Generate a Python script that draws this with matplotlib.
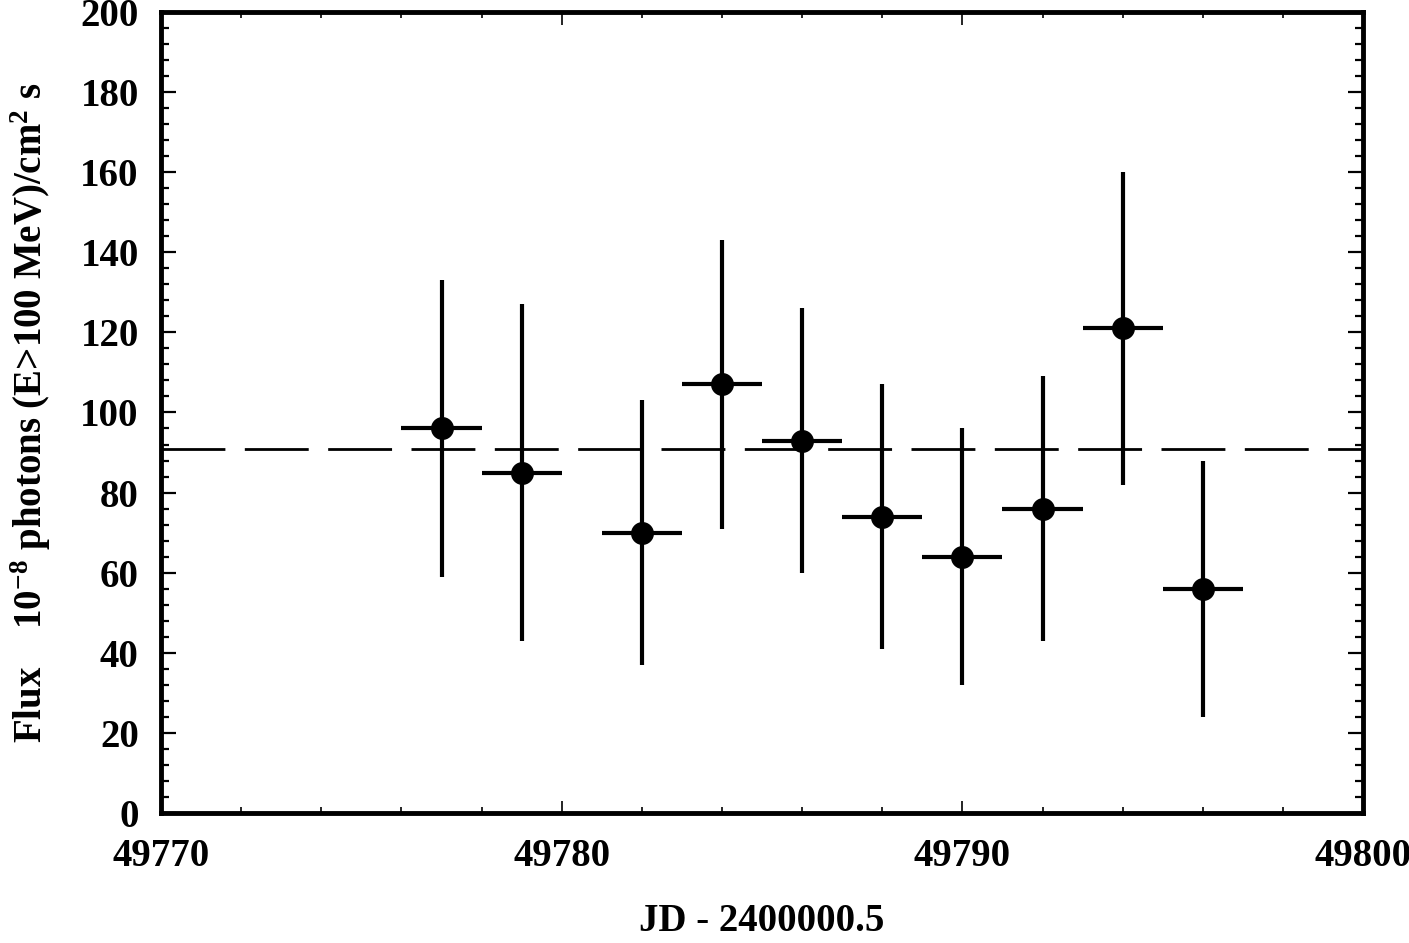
import matplotlib
matplotlib.use("Agg")
import matplotlib.pyplot as plt
from matplotlib.ticker import MultipleLocator

# light curve values
jd = [49777, 49779, 49782, 49784, 49786, 49788, 49790, 49792, 49794, 49796]
flux = [96, 85, 70, 107, 93, 74, 64, 76, 121, 56]
flux_hi = [133, 127, 103, 143, 126, 107, 96, 109, 160, 88]
flux_lo = [59, 43, 37, 71, 60, 41, 32, 43, 82, 24]
bin_half = [1, 1, 1, 1, 1, 1, 1, 1, 1, 1]
mean_flux = 91

plt.rcParams['font.family'] = ['Liberation Serif', 'DejaVu Serif']
plt.rcParams['font.weight'] = 'bold'
plt.rcParams['mathtext.fontset'] = 'custom'
plt.rcParams['mathtext.rm'] = 'Liberation Serif:bold'
plt.rcParams['mathtext.default'] = 'rm'

fig = plt.figure(figsize=(14.09, 9.43), dpi=100)
ax = fig.add_axes([0.1143, 0.1379, 0.8531, 0.8494])

yerr = [[f - lo for f, lo in zip(flux, flux_lo)],
        [hi - f for f, hi in zip(flux, flux_hi)]]
ax.errorbar(jd, flux, xerr=bin_half, yerr=yerr, fmt='o', color='black',
            ms=15.5, elinewidth=3, capsize=0, zorder=3)
ax.axhline(mean_flux, color='black', lw=2, dashes=(23, 7), zorder=2)

ax.set_xlim(49770, 49800)
ax.set_ylim(0, 200)
ax.xaxis.set_major_locator(MultipleLocator(10))
ax.xaxis.set_minor_locator(MultipleLocator(2))
ax.yaxis.set_major_locator(MultipleLocator(20))
ax.yaxis.set_minor_locator(MultipleLocator(4))

ax.tick_params(which='both', direction='in', top=True, right=True)
ax.tick_params(axis='x', which='major', length=9, width=1.2, pad=18, labelsize=28)
ax.tick_params(axis='x', which='minor', length=4, width=1.2)
ax.tick_params(axis='y', which='major', length=11, width=1.6, pad=16, labelsize=28)
ax.tick_params(axis='y', which='minor', length=6, width=1.6)
for lab in ax.get_xticklabels() + ax.get_yticklabels():
    lab.set_fontweight('bold')

for sp in ax.spines.values():
    sp.set_linewidth(3.5)

ax.set_xlabel('JD - 2400000.5', fontsize=28, fontweight='bold', labelpad=20)
ax.set_ylabel(r'Flux    10$^{-8}$ photons (E>100 MeV)/cm$^{2}$ s',
              fontsize=28, fontweight='bold', labelpad=20)

fig.savefig('out.png', dpi=100)
